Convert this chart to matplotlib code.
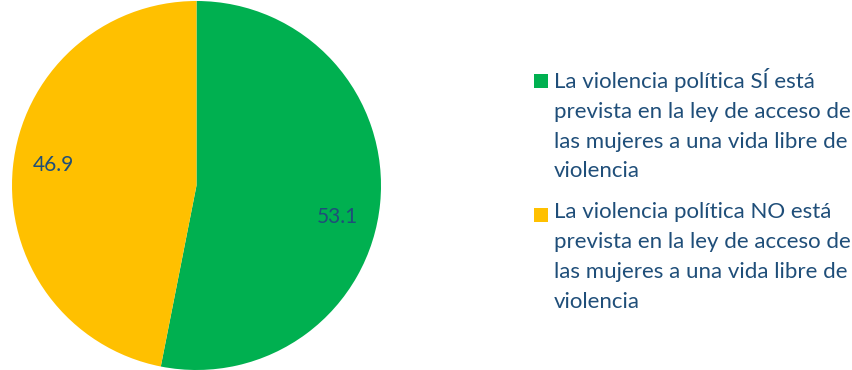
import matplotlib.pyplot as plt
from matplotlib.patches import Rectangle
import numpy as np

labels = ['La violencia política SÍ está\nprevista en la ley de acceso de\nlas mujeres a una vida libre de\nviolencia',
          'La violencia política NO está\nprevista en la ley de acceso de\nlas mujeres a una vida libre de\nviolencia']
values = [53.1, 46.9]
colors = ['#00B050', '#FFC000']
text_color = '#1F4E79'

plt.rcParams['font.family'] = ['Lato', 'DejaVu Sans']

W, H = 852, 370
fig = plt.figure(figsize=(W / 100, H / 100), dpi=100)
ax = fig.add_axes([12 / W, 0.0, 369 / W, 369 / H])

wedges, texts = ax.pie(values, colors=colors, startangle=90, counterclock=False,
                       radius=1.0, wedgeprops=dict(linewidth=0))
ax.set_xlim(-1, 1)
ax.set_ylim(-1, 1)
ax.set_aspect('equal')

# data labels, nudged a bit the way Excel's best fit puts them
offsets = [-7, -2.7]  # degrees
for w, v, off in zip(wedges, values, offsets):
    ang = np.deg2rad((w.theta1 + w.theta2) / 2 + off)
    ax.text(0.785 * np.cos(ang), 0.785 * np.sin(ang), f'{v:.1f}',
            ha='center', va='center', fontsize=15, color=text_color)

# legend drawn by hand so the marker sits on the first line
renderer = fig.canvas.get_renderer()
y = 1 - 68 / H
for lab, c in zip(labels, colors):
    t = fig.text(554 / W, y, lab, ha='left', va='top', fontsize=16,
                 color=text_color, linespacing=1.61)
    fig.add_artist(Rectangle((534 / W, y - 20 / H), 14 / W, 14 / H,
                             transform=fig.transFigure, facecolor=c, edgecolor='none'))
    bb = t.get_window_extent(renderer)
    y = bb.y0 / H - 21 / H

fig.savefig('out.png', dpi=100)
